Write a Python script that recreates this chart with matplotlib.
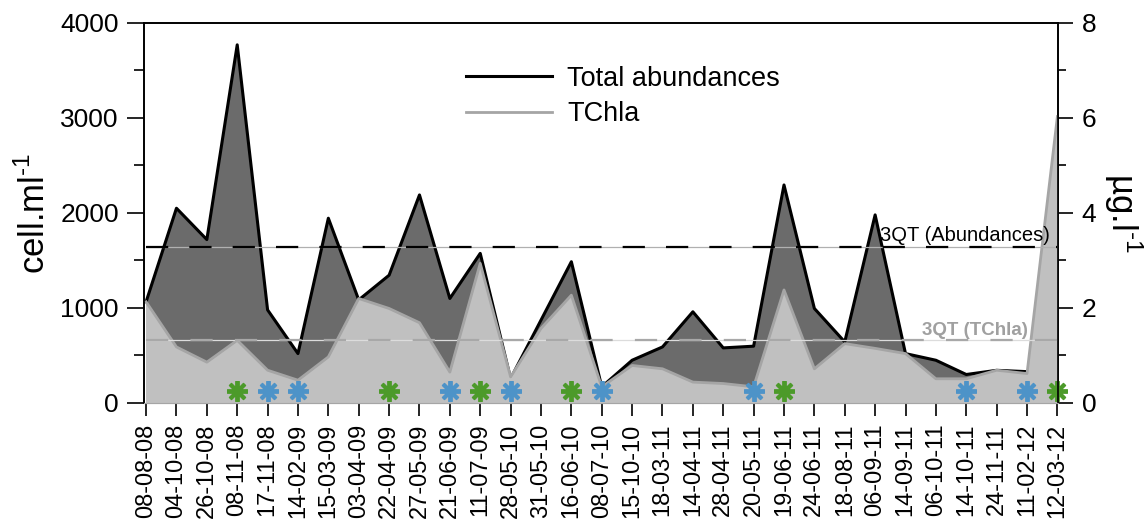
import matplotlib.pyplot as plt
import numpy as np

plt.rcParams['font.family'] = ['Liberation Sans', 'DejaVu Sans']
plt.rcParams['mathtext.fontset'] = 'custom'
plt.rcParams['mathtext.rm'] = 'Liberation Sans'

# sampling dates (dd-mm-yy)
dates = ['08-08-08', '04-10-08', '26-10-08', '08-11-08', '17-11-08', '14-02-09',
         '15-03-09', '03-04-09', '22-04-09', '27-05-09', '21-06-09', '11-07-09',
         '28-05-10', '31-05-10', '16-06-10', '08-07-10', '15-10-10', '18-03-11',
         '14-04-11', '28-04-11', '20-05-11', '19-06-11', '24-06-11', '18-08-11',
         '06-09-11', '14-09-11', '06-10-11', '14-10-11', '24-11-11', '11-02-12',
         '12-03-12']

# total abundances, cell/ml
abundances = [1065, 2050, 1720, 3770, 980, 520, 1945, 1085, 1345, 2190, 1100,
              1575, 257, 872, 1487, 170, 450, 590, 960, 580, 598, 2295, 995,
              643, 1980, 520, 450, 300, 344, 330, 350]

# total chlorophyll a, ug/l
tchla = [2.13, 1.18, 0.86, 1.32, 0.69, 0.48, 0.97, 2.20, 1.99, 1.69, 0.65,
         2.94, 0.55, 1.57, 2.27, 0.34, 0.79, 0.72, 0.44, 0.41, 0.34, 2.38,
         0.72, 1.25, 1.15, 1.04, 0.51, 0.51, 0.69, 0.62, 6.03]

# third quartiles
q3_abund = 1645
q3_tchla = 1.32

# dates flagged with asterisks
green_idx = [3, 8, 11, 14, 21, 30]
blue_idx = [4, 5, 10, 12, 15, 20, 27, 29]

DARK = '#6b6b6b'
LIGHT = '#c0c0c0'
LINE_GREY = '#a5a5a5'
GREEN = '#4c9a2a'
BLUE = '#4d93c8'
MARK_Y = 125

x = np.arange(len(dates))

fig = plt.figure(figsize=(11.48, 5.27), dpi=100)
ax1 = fig.add_axes([0.1254, 0.2353, 0.7962, 0.7211])
ax2 = ax1.twinx()

# abundances: dark area with black outline
ax1.fill_between(x, abundances, color=DARK, lw=0)
l_ab, = ax1.plot(x, abundances, color='black', lw=2.2)

# TChla on top
ax2.fill_between(x, tchla, color=LIGHT, lw=0)
l_ch, = ax2.plot(x, tchla, color=LINE_GREY, lw=2.0)

# 3QT reference lines
ax2.plot([x[0], x[-1]], [q3_abund, q3_abund], color='#b0b0b0', lw=0.9,
         transform=ax1.transData)
ax2.plot([x[0], x[-1]], [q3_abund, q3_abund], color='black', lw=1.6,
         dashes=(10, 9.5), transform=ax1.transData)
ax2.plot([x[0], x[-1]], [q3_tchla, q3_tchla], color='#dcdcdc', lw=0.9)
ax2.plot([x[0], x[-1]], [q3_tchla, q3_tchla], color='#a8a8a8', lw=1.6,
         dashes=(10, 10))

ax2.annotate('3QT (Abundances)', xy=(24.15, q3_abund), xycoords=ax1.transData,
             xytext=(0, 1), textcoords='offset points', va='bottom',
             fontsize=14.5)
ax2.annotate('3QT (TChla)', xy=(25.55, q3_tchla), xytext=(0, 1),
             textcoords='offset points', va='bottom', fontsize=13.5,
             fontweight='bold', color='#a0a0a0')

# asterisk markers near the baseline
ax2.plot(x[green_idx], [MARK_Y] * len(green_idx), ls='none', marker=(8, 2, 0),
         ms=15, mew=2.8, color=GREEN, transform=ax1.transData, clip_on=False)
ax2.plot(x[blue_idx], [MARK_Y] * len(blue_idx), ls='none', marker=(8, 2, 0),
         ms=15, mew=2.8, color=BLUE, transform=ax1.transData, clip_on=False)

ax1.set_xlim(-0.07, 30.02)
ax1.set_ylim(0, 4000)
ax2.set_ylim(0, 8)

ax1.set_xticks(x)
ax1.set_xticklabels(dates, rotation=90, fontsize=17)
ax1.set_yticks(np.arange(0, 4001, 1000))
ax1.set_yticks(np.arange(500, 4000, 1000), minor=True)
ax2.set_yticks(np.arange(0, 9, 2))
ax2.set_yticks(np.arange(1, 8, 2), minor=True)

ax1.tick_params(axis='y', which='major', direction='out', length=12, width=1.2,
                labelsize=19, pad=6)
ax1.tick_params(axis='y', which='minor', direction='out', length=7, width=1.2)
ax1.tick_params(axis='x', direction='out', length=9, width=1.2, pad=6)
ax2.tick_params(axis='y', which='major', direction='out', length=11, width=1.2,
                labelsize=19, pad=6)
ax2.tick_params(axis='y', which='minor', direction='out', length=6, width=1.2)

for ax in (ax1, ax2):
    for side in ('left', 'right', 'top'):
        ax.spines[side].set_linewidth(1.2)
    ax.spines['bottom'].set_color(LINE_GREY)

ax1.set_ylabel(r'cell.ml$^{\text{-1}}$', fontsize=25, labelpad=6)
ax2.set_ylabel(r'µg.l$^{\text{-1}}$', fontsize=25, rotation=270,
               va='bottom', labelpad=4)

ax2.legend([l_ab, l_ch], ['Total abundances', 'TChla'], loc='upper left',
           bbox_to_anchor=(0.352, 0.888), frameon=False, fontsize=19.5,
           handlelength=3.2, handletextpad=0.55, labelspacing=0.35,
           borderpad=0, borderaxespad=0)

fig.savefig('out.png', dpi=100)
